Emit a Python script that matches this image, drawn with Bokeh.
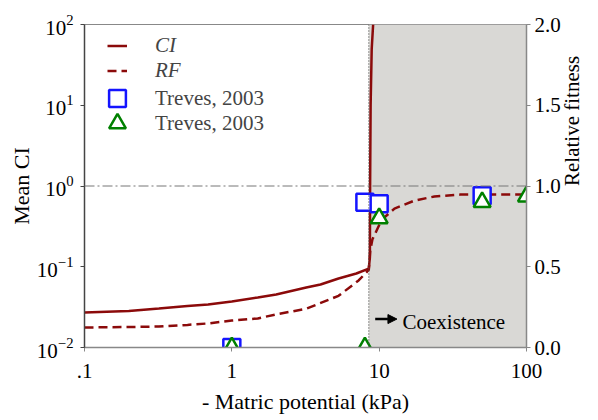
import math
from bokeh.plotting import figure
from bokeh.models import (Range1d, LinearAxis, LinearScale, FixedTicker, Span, BoxAnnotation, Label,
                          Legend, LegendItem, Arrow, NormalHead, PrintfTickFormatter)
from bokeh.embed import file_html
from bokeh.resources import INLINE

# ---------------- data ----------------
ci_x = [0.1, 0.2, 0.32, 0.5, 0.69, 1.0, 1.5, 2.0, 3.2, 4.0, 5.3, 7.0, 8.5, 8.65, 8.68, 8.75, 8.9, 9.1]
ci_y = [0.0271, 0.0283, 0.0304, 0.0327, 0.0341, 0.0371, 0.0416, 0.0453, 0.0553, 0.0603, 0.0715, 0.0825,
        0.095, 0.13, 1.0, 10.0, 50.0, 100.0]

rf_x = [0.1, 0.2, 0.32, 0.5, 0.69, 1.0, 1.5, 2.0, 3.2, 5.3, 7.25, 8.5, 8.7, 9.0, 10.4, 12.7, 17.4, 23.7, 35.6, 100]
rf_y = [0.124, 0.127, 0.130, 0.140, 0.149, 0.167, 0.180, 0.205, 0.240, 0.320, 0.415, 0.480, 0.600, 0.670,
        0.790, 0.860, 0.910, 0.935, 0.947, 0.947]

sq_x = [1, 8, 10, 50]
sq_y = [0.0, 0.90, 0.89, 0.94]
tri_x = [1, 8, 10, 50, 100]
tri_y = [0.0, 0.0, 0.80, 0.90, 0.935]

x_ticks = [0.1, 1, 10, 100]
x_tick_labels = [".1", "1", "10", "100"]
y_ticks = [0.01, 0.1, 1, 10, 100]
rf_ticks = [0.0, 0.5, 1.0, 1.5, 2.0]
coexist_start = 8.5

FONT = "Liberation Serif"
RED = "#8B0A0A"
BLUE = "#1414FF"
GREEN = "#008000"

p = figure(width=598, height=420, x_axis_type="log", y_axis_type="log",
           x_range=Range1d(0.1, 100), y_range=Range1d(0.01, 100),
           output_backend="svg", toolbar_location=None,
           min_border_left=84, min_border_right=64, min_border_top=24, min_border_bottom=73)
p.extra_y_ranges = {"rf": Range1d(0, 2)}
p.extra_y_scales = {"rf": LinearScale()}
p.xgrid.visible = False
p.ygrid.visible = False
p.outline_line_color = "#888888"
p.outline_line_width = 1
p.background_fill_color = "white"
p.border_fill_color = "white"

# shaded coexistence region
p.add_layout(BoxAnnotation(left=coexist_start, fill_color="#D9D8D5", fill_alpha=1.0,
                           line_color=None, level="underlay"))
p.add_layout(Span(location=coexist_start, dimension="height", line_color="#555555",
                  line_dash="1 2", line_width=1.2))
p.add_layout(Span(location=1.0, dimension="width", line_color="#777777",
                  line_dash="10 3 2 3", line_width=1))

# curves
r_ci = p.line(ci_x, ci_y, line_color=RED, line_width=2.5)
r_rf = p.line(rf_x, rf_y, line_color=RED, line_width=2.5, line_dash="9 5", y_range_name="rf")

# markers
r_sq = p.scatter(sq_x, sq_y, marker="square", size=17, line_color=BLUE, line_width=2.5,
                 fill_color="white", y_range_name="rf")
r_tri = p.scatter(tri_x, tri_y, marker="triangle", size=17, line_color=GREEN, line_width=2.5,
                  fill_color="white", y_range_name="rf")

# axes
xa = p.xaxis[0]
xa.ticker = FixedTicker(ticks=x_ticks)
xa.major_label_overrides = dict(zip(x_ticks, x_tick_labels))
xa.axis_label = "- Matric potential (kPa)"
ya = p.yaxis[0]
ya.ticker = FixedTicker(ticks=y_ticks)
ya.axis_label = "Mean CI"

ra = LinearAxis(y_range_name="rf", axis_label="Relative fitness")
ra.ticker = FixedTicker(ticks=rf_ticks)
ra.formatter = PrintfTickFormatter(format="%.1f")
ra.axis_label_orientation = math.pi / 2
p.add_layout(ra, "right")

for ax in (xa, ya, ra):
    ax.major_label_text_font = FONT
    ax.major_label_text_font_size = "21px"
    ax.major_label_text_color = "black"
    ax.axis_label_text_font = FONT
    ax.axis_label_text_font_size = "22px"
    ax.axis_label_text_font_style = "normal"
    ax.axis_label_text_color = "black"
    ax.minor_tick_line_color = None
    ax.major_tick_in = 0
    ax.major_tick_out = 4
    ax.axis_line_color = "#888888"
    ax.major_tick_line_color = "#888888"
    ax.axis_line_width = 1.5

ra.axis_label_text_font_size = "21px"
ya.axis_line_color = "#444444"
ya.major_tick_line_color = "#444444"
ya.major_label_standoff = 7
ya.axis_label_standoff = 0
xa.major_label_standoff = 12
xa.axis_label_standoff = 8
ra.major_label_standoff = 4
ra.axis_label_standoff = 8

# coexistence annotation
p.add_layout(Arrow(end=NormalHead(size=9, fill_color="black", line_color="black"),
                   x_start=9.4, y_start=0.0225, x_end=13.2, y_end=0.0225,
                   line_color="black", line_width=2.5))
p.add_layout(Label(x=14.4, y=0.0205, text="Coexistence", text_align="left",
                   text_baseline="middle", text_font=FONT, text_font_size="21px",
                   text_color="black"))

# legends
leg1 = Legend(items=[LegendItem(label="CI", renderers=[r_ci]),
                     LegendItem(label="RF", renderers=[r_rf])],
              location=(23, 264), glyph_width=20, glyph_height=25, label_height=25,
              spacing=0, padding=0, margin=0, label_standoff=28,
              label_text_font=FONT, label_text_font_size="21px", label_text_font_style="italic",
              border_line_color=None, background_fill_alpha=0)
leg2 = Legend(items=[LegendItem(label="Treves, 2003", renderers=[r_sq])],
              location=(12, 228), glyph_width=42, glyph_height=42, label_height=42,
              spacing=0, padding=0, margin=0, label_standoff=17,
              label_text_font=FONT, label_text_font_size="21px",
              border_line_color=None, background_fill_alpha=0)
leg3 = Legend(items=[LegendItem(label="Treves, 2003", renderers=[r_tri])],
              location=(12, 203), glyph_width=42, glyph_height=42, label_height=42,
              spacing=0, padding=0, margin=0, label_standoff=17,
              label_text_font=FONT, label_text_font_size="21px",
              border_line_color=None, background_fill_alpha=0)
p.add_layout(leg1)
p.add_layout(leg2)
p.add_layout(leg3)

open("out.html", "w").write(file_html(p, INLINE))
